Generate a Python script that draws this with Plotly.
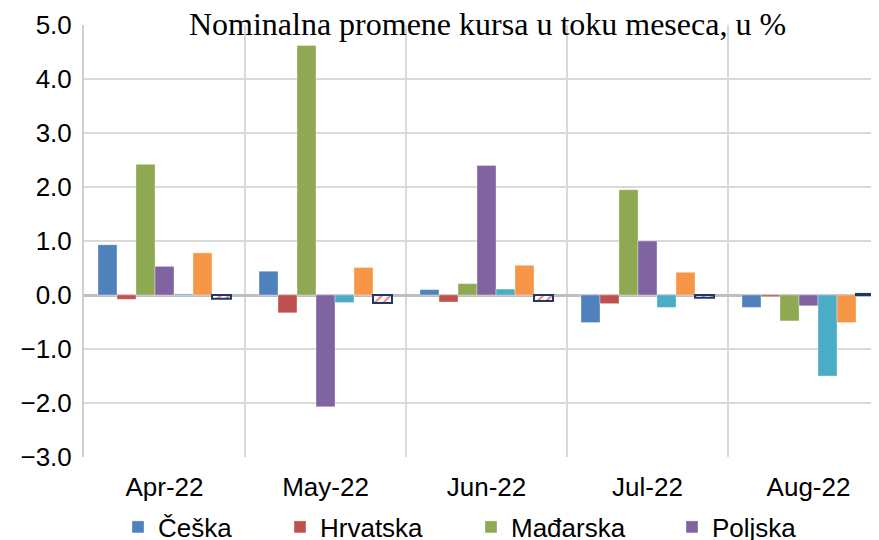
import plotly.graph_objects as go

categories = ["Apr-22", "May-22", "Jun-22", "Jul-22", "Aug-22"]
ceska = [0.93, 0.44, 0.10, -0.51, -0.23]
hrvatska = [-0.08, -0.33, -0.13, -0.16, -0.03]
madjarska = [2.42, 4.62, 0.21, 1.95, -0.48]
poljska = [0.53, -2.07, 2.40, 1.00, -0.20]
rumunija = [0.02, -0.14, 0.11, -0.23, -1.50]
turska = [0.78, 0.51, 0.55, 0.42, -0.51]
srbija = [-0.07, -0.15, -0.11, -0.05, 0.02]

y_ticks = [-3, -2, -1, 0, 1, 2, 3, 4, 5]

# the page body adds an 8px offset; work in page pixels and subtract it
OFF = 8
W, H = 879 - OFF, 540 - OFF
L, R, T, B = 84 - OFF, 0, 25 - OFF, 540 - 457

series = [
    ("Češka", ceska, "#4F81BD", "legend"),
    ("Hrvatska", hrvatska, "#C0504D", "legend2"),
    ("Mađarska", madjarska, "#8EA951", "legend3"),
    ("Poljska", poljska, "#8064A2", "legend4"),
    ("Rumunija", rumunija, "#4BACC6", None),
    ("Turska", turska, "#F79646", None),
]

fig = go.Figure()
for name, vals, col, leg in series:
    kw = dict(x=categories, y=vals, name=name,
              marker=dict(color=col, line=dict(color="rgba(255,255,255,0.35)", width=1)))
    if leg is None:
        kw["showlegend"] = False
    else:
        kw["legend"] = leg
    fig.add_trace(go.Bar(**kw))

fig.add_trace(go.Bar(
    x=categories, y=srbija, name="Srbija", showlegend=False,
    marker=dict(color="white", line=dict(color="#1F3864", width=2),
                pattern=dict(shape="/", fgcolor="#E00000", bgcolor="white",
                             size=6, solidity=0.35))))

font_sans = "Liberation Sans, Arial, sans-serif"
legend_common = dict(orientation="h", xanchor="left", yanchor="middle",
                     font=dict(family=font_sans, size=26, color="black"),
                     bgcolor="rgba(0,0,0,0)", borderwidth=0)
plot_w = W - L - R
plot_h = H - T - B
legend_ypix = 527 - OFF
ly = (H - B - legend_ypix) / plot_h
marker_x = [143, 305, 496, 697]
lx = [(m - OFF - 25 - L) / plot_w for m in marker_x]

fig.update_layout(
    width=W, height=H,
    margin=dict(l=L, r=R, t=T, b=B, autoexpand=False),
    paper_bgcolor="white", plot_bgcolor="white",
    barmode="group", bargap=0.174, bargroupgap=0,
    title=dict(text="Nominalna promene kursa u toku meseca, u %",
               font=dict(family="Liberation Serif, Times New Roman, serif", size=32, color="black"),
               x=(487.5 - OFF) / W, xanchor="center",
               y=1 - (24 - OFF) / H, yanchor="middle", yref="container"),
    legend=dict(x=lx[0], y=ly, **legend_common),
    legend2=dict(x=lx[1], y=ly, **legend_common),
    legend3=dict(x=lx[2], y=ly, **legend_common),
    legend4=dict(x=lx[3], y=ly, **legend_common),
    xaxis=dict(type="category", range=[-0.5, 4.5 - 10 / 161], tickson="boundaries",
               showgrid=True, gridcolor="#D9D9D9", gridwidth=2, ticks="",
               showline=False, zeroline=False,
               tickfont=dict(family=font_sans, size=26, color="black"),
               ticklabelstandoff=12),
    yaxis=dict(range=[-3, 5], tickvals=y_ticks, tickformat=".1f",
               showgrid=True, gridcolor="#D9D9D9", gridwidth=2,
               zeroline=True, zerolinecolor="#BFBFBF", zerolinewidth=3,
               showline=True, linecolor="#D0D0D0", linewidth=2,
               ticks="", tickfont=dict(family=font_sans, size=26, color="black"),
               ticklabelstandoff=5),
)

fig.write_html("out.html")
